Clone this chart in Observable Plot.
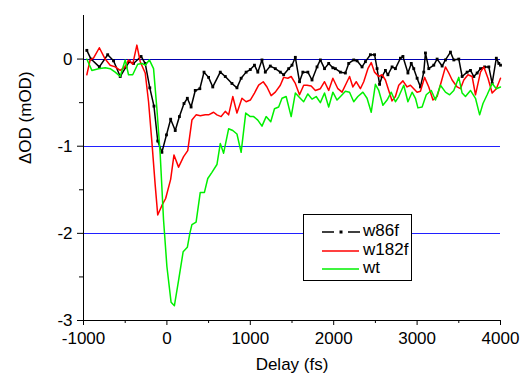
<!DOCTYPE html>
<html>
<head>
<meta charset="utf-8">
<script src="https://cdn.jsdelivr.net/npm/d3@7"></script>
<script src="https://cdn.jsdelivr.net/npm/@observablehq/plot@0.6"></script>
<style>
  html, body { margin: 0; padding: 0; background: #fff; }
  #wrap { position: relative; width: 520px; height: 378px; font-family: "Liberation Sans", Arial, sans-serif; }
  #legend { position: absolute; left: 303px; top: 214px; width: 109px; height: 67px; box-sizing: border-box;
            border: 1px solid #000; background: #fff; }
  .row { position: absolute; left: 0; height: 18px; width: 100%; }
  .row svg { position: absolute; left: 17px; top: 0; }
  .row span { position: absolute; left: 59px; top: -1px; font-size: 17px; line-height: 18px; color: #000; }
</style>
</head>
<body>
<div id="wrap"></div>
<script>
// ---- data ----
const seriesNames = ["w86f", "w182f", "wt"];
const seriesColors = ["#000000", "#ff0000", "#00f000"];

const w86fDelay = [-960,-910,-810,-710,-640,-560,-490,-450,-400,-310,-260,-205,-155,-110,-60,-5,45,100,150,205,245,290,340,395,445,500,550,640,700,780,840,890,950,1000,1050,1090,1140,1180,1240,1300,1360,1400,1460,1500,1540,1590,1630,1690,1740,1800,1840,1890,1940,1990,2020,2080,2140,2180,2240,2280,2340,2380,2440,2490,2520,2550,2580,2620,2650,2700,2740,2800,2830,2890,2930,2960,3000,3040,3080,3100,3140,3200,3240,3300,3340,3400,3440,3500,3540,3600,3640,3680,3720,3760,3810,3860,3900,3950,3980,4000];
const w86fValue = [0.10,0.00,-0.09,0.05,-0.02,-0.20,-0.09,-0.03,-0.05,0.03,-0.05,-0.33,-0.54,-0.94,-1.07,-0.87,-0.69,-0.82,-0.66,-0.51,-0.45,-0.55,-0.36,-0.34,-0.15,-0.21,-0.32,-0.15,-0.20,-0.28,-0.33,-0.22,-0.15,-0.12,-0.07,-0.15,-0.01,-0.15,-0.08,-0.11,-0.15,-0.18,-0.11,-0.07,0.02,-0.26,-0.15,-0.15,-0.24,-0.09,-0.01,-0.11,-0.05,-0.10,-0.11,-0.15,-0.16,-0.05,-0.01,-0.02,-0.09,-0.03,0.05,0.05,-0.11,-0.29,-0.20,-0.13,-0.18,-0.09,-0.11,0.01,0.03,-0.16,-0.05,-0.11,-0.22,-0.32,-0.15,0.07,-0.11,-0.07,0.00,-0.08,-0.01,0.08,-0.01,0.00,-0.20,-0.15,-0.13,-0.20,-0.16,-0.11,-0.09,-0.09,-0.28,0.01,-0.05,-0.07];

const w182fDelay = [-960,-920,-880,-810,-740,-680,-620,-560,-500,-460,-410,-360,-320,-260,-220,-180,-140,-110,-60,-15,45,85,140,200,250,300,350,400,460,500,560,600,650,700,740,790,840,900,950,1000,1050,1100,1155,1200,1250,1300,1360,1400,1450,1490,1540,1590,1640,1680,1730,1780,1840,1890,1940,1990,2050,2100,2150,2190,2230,2270,2320,2360,2410,2450,2490,2540,2580,2620,2660,2700,2740,2780,2830,2880,2920,2960,3000,3040,3090,3140,3190,3240,3290,3340,3380,3420,3480,3520,3560,3610,3660,3700,3760,3800,3850,3900,3950,4000];
const w182fValue = [-0.18,-0.01,0.01,0.13,0.00,-0.07,-0.09,-0.13,-0.09,-0.01,-0.06,0.16,-0.03,-0.16,-0.49,-0.95,-1.45,-1.79,-1.68,-1.60,-1.38,-1.10,-1.24,-1.12,-1.05,-0.70,-0.64,-0.65,-0.64,-0.64,-0.61,-0.64,-0.66,-0.60,-0.64,-0.43,-0.62,-0.45,-0.49,-0.47,-0.39,-0.30,-0.26,-0.32,-0.42,-0.38,-0.30,-0.21,-0.22,-0.20,-0.28,-0.41,-0.30,-0.30,-0.31,-0.36,-0.34,-0.26,-0.36,-0.22,-0.34,-0.38,-0.28,-0.20,-0.32,-0.26,-0.34,-0.26,-0.11,-0.04,-0.15,-0.20,-0.18,-0.24,-0.36,-0.48,-0.43,-0.30,-0.25,-0.32,-0.30,-0.34,-0.38,-0.37,-0.21,-0.32,-0.47,-0.43,-0.26,-0.09,-0.16,-0.24,-0.32,-0.34,-0.24,-0.18,-0.20,-0.41,-0.15,-0.09,-0.22,-0.39,-0.34,-0.22];

const wtDelay = [-960,-900,-820,-740,-680,-620,-560,-500,-460,-410,-350,-300,-260,-210,-160,-120,-80,-40,0,50,90,140,195,245,275,300,350,400,450,490,540,600,640,680,740,790,840,890,945,1000,1040,1090,1140,1190,1245,1290,1340,1380,1430,1490,1540,1590,1640,1690,1740,1790,1840,1890,1940,1990,2040,2090,2140,2190,2240,2290,2350,2400,2450,2500,2540,2590,2640,2690,2740,2780,2840,2890,2940,2980,3010,3060,3110,3170,3220,3280,3340,3390,3440,3500,3540,3580,3640,3700,3750,3790,3840,3900,3950,4000];
const wtValue = [0.00,-0.13,-0.11,-0.10,-0.11,-0.15,-0.20,-0.01,-0.18,-0.18,-0.06,-0.05,-0.07,-0.01,-0.11,-0.57,-1.10,-1.85,-2.38,-2.79,-2.83,-2.54,-2.21,-2.16,-2.00,-1.90,-1.87,-1.53,-1.53,-1.37,-1.30,-1.21,-0.97,-1.08,-0.80,-0.82,-0.86,-1.07,-0.62,-0.66,-0.66,-0.70,-0.77,-0.66,-0.72,-0.57,-0.55,-0.45,-0.43,-0.66,-0.39,-0.44,-0.49,-0.40,-0.46,-0.43,-0.50,-0.39,-0.55,-0.38,-0.47,-0.42,-0.37,-0.38,-0.49,-0.43,-0.38,-0.45,-0.61,-0.29,-0.36,-0.53,-0.47,-0.38,-0.49,-0.43,-0.30,-0.49,-0.38,-0.45,-0.56,-0.55,-0.41,-0.36,-0.47,-0.30,-0.38,-0.41,-0.36,-0.21,-0.39,-0.43,-0.36,-0.45,-0.64,-0.51,-0.41,-0.28,-0.34,-0.32];

const xTicks = [-1000, 0, 1000, 2000, 3000, 4000];
const xMinorTicks = [-500, 500, 1500, 2500, 3500];
const yTicks = [-3, -2, -1, 0];
const yMinorTicks = [-2.5, -1.5, -0.5];
const refLines = [-1, -2];
const xLabel = "Delay (fs)";
const yLabel = "\u0394OD (mOD)";

// ---- build tables ----
function zip(delays, values, name) {
  const n = Math.min(delays.length, values.length);
  const out = [];
  for (let i = 0; i < n; i++) out.push({delay: delays[i], value: values[i], series: name});
  return out;
}
const w86f = zip(w86fDelay, w86fValue, "w86f");
const w182f = zip(w182fDelay, w182fValue, "w182f");
const wt = zip(wtDelay, wtValue, "wt");

const font = "'Liberation Sans', Arial, sans-serif";

const chart = Plot.plot({
  width: 520,
  height: 378,
  marginLeft: 83,
  marginRight: 20,
  marginTop: 15,
  marginBottom: 58,
  style: {fontFamily: font, fontSize: "17px", color: "#000", background: "#fff", overflow: "visible"},
  x: {domain: [-1000, 4000]},
  y: {domain: [-3, 0.5]},
  marks: [
    Plot.ruleY(refLines, {stroke: "#2020ff", strokeWidth: 1, shapeRendering: "crispEdges"}),
    Plot.ruleY([0], {stroke: "#0000b0", strokeWidth: 1, shapeRendering: "crispEdges"}),
    Plot.line(w86f, {x: "delay", y: "value", stroke: seriesColors[0], strokeWidth: 1.5}),
    Plot.dot(w86f, {x: "delay", y: "value", symbol: "square", r: 1.6, fill: seriesColors[0], stroke: null}),
    Plot.line(w182f, {x: "delay", y: "value", stroke: seriesColors[1], strokeWidth: 1.5}),
    Plot.line(wt, {x: "delay", y: "value", stroke: seriesColors[2], strokeWidth: 1.5}),
    Plot.axisX({ticks: xTicks, tickSize: 5, tickPadding: 6, tickFormat: d => String(d), label: null, fontSize: 17}),
    Plot.axisX({ticks: xMinorTicks, tickSize: 3, tickFormat: () => "", label: null}),
    Plot.axisY({ticks: yTicks, tickSize: 6, tickPadding: 5, tickFormat: d => String(d), label: null, fontSize: 17}),
    Plot.axisY({ticks: yMinorTicks, tickSize: 4, tickFormat: () => "", label: null}),
    Plot.ruleX([-1000], {stroke: "#000", strokeWidth: 1, shapeRendering: "crispEdges"}),
    Plot.ruleY([-3], {stroke: "#000", strokeWidth: 1, shapeRendering: "crispEdges"}),
    Plot.text([xLabel], {text: d => d, frameAnchor: "bottom", dy: 49, fontSize: 17, fill: "#000"}),
    Plot.text([yLabel], {text: d => d, frameAnchor: "left", dx: -58, dy: -4, rotate: -90, fontSize: 17, fill: "#000"})
  ]
});

const wrap = document.getElementById("wrap");
wrap.appendChild(chart);

// ---- legend ----
const legend = document.createElement("div");
legend.id = "legend";
const rowTops = [8, 27, 45];
seriesNames.forEach((name, i) => {
  const row = document.createElement("div");
  row.className = "row";
  row.style.top = rowTops[i] + "px";
  let svg;
  if (i === 0) {
    svg = `<svg width="40" height="18"><line x1="1" y1="9" x2="13" y2="9" stroke="${seriesColors[i]}" stroke-width="1.5"/><rect x="18.5" y="7.5" width="3" height="3" fill="${seriesColors[i]}"/><line x1="27" y1="9" x2="39" y2="9" stroke="${seriesColors[i]}" stroke-width="1.5"/></svg>`;
  } else {
    svg = `<svg width="40" height="18"><line x1="1" y1="9" x2="38" y2="9" stroke="${seriesColors[i]}" stroke-width="1.5"/></svg>`;
  }
  row.innerHTML = svg + `<span>${name}</span>`;
  legend.appendChild(row);
});
wrap.appendChild(legend);
</script>
</body>
</html>
